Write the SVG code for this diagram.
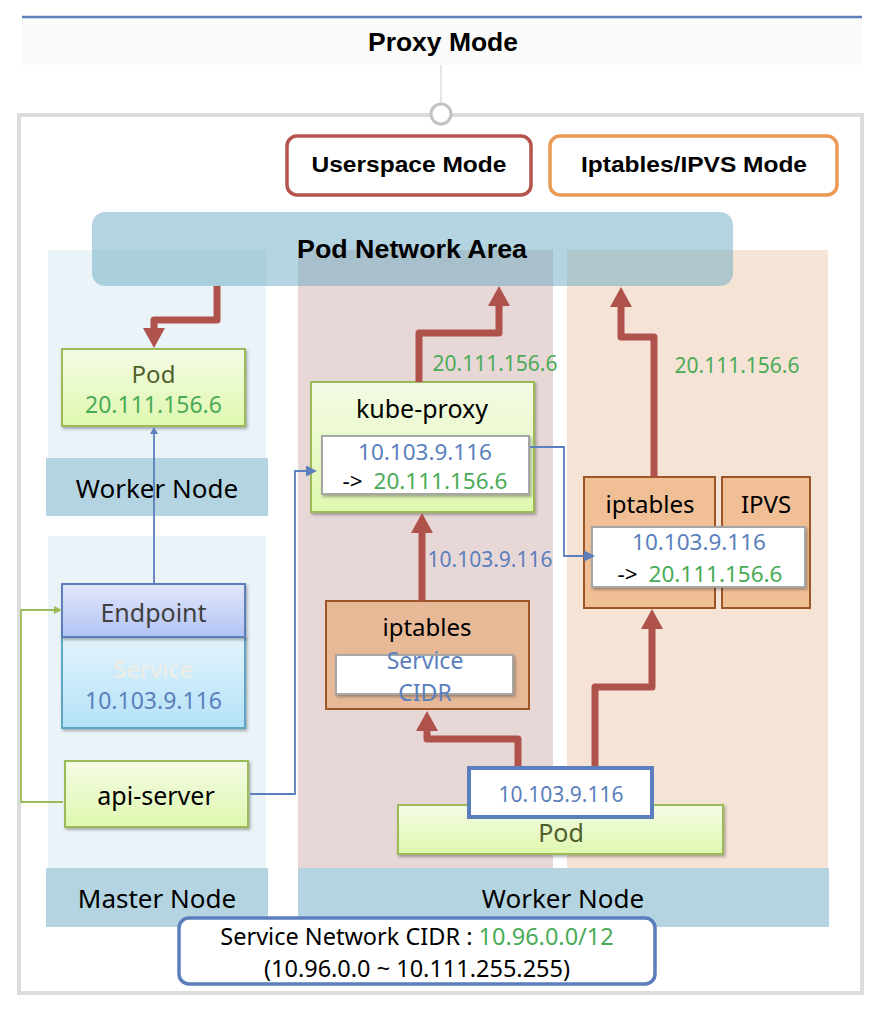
<svg xmlns="http://www.w3.org/2000/svg" width="878" height="1010" viewBox="0 0 878 1010">
<defs>
<style>
.t{font-family:"Noto Sans","Open Sans","DejaVu Sans",sans-serif;text-anchor:middle}
.b{font-family:"Liberation Sans",Arial,sans-serif;font-weight:bold;text-anchor:middle;fill:#000}
.blue{fill:#5b7fbc}
.green{fill:#4aab57}
.red{fill:none;stroke:#b0524c;stroke-width:7;stroke-linejoin:round}
.bl{fill:none;stroke:#5b7fbc;stroke-width:1.8}
.gl{fill:none;stroke:#9bbb59;stroke-width:1.8}
.gbox{fill:url(#gGreen);stroke:#9bbb59;stroke-width:2}
.wbox{fill:#fff;stroke:#a6a6a6;stroke-width:2}
.obox{stroke:#9c5526;stroke-width:2}
.bar{fill:#b3d4e0}
</style>
<linearGradient id="gGreen" x1="0" y1="0" x2="0" y2="1"><stop offset="0" stop-color="#f4fbe6"/><stop offset="1" stop-color="#dff8ae"/></linearGradient>
<linearGradient id="gEnd" x1="0" y1="0" x2="0" y2="1"><stop offset="0" stop-color="#e3e8fb"/><stop offset="1" stop-color="#b1c2f4"/></linearGradient>
<linearGradient id="gSvc" x1="0" y1="0" x2="0" y2="1"><stop offset="0" stop-color="#e3f3fb"/><stop offset="1" stop-color="#b3e2f8"/></linearGradient>
<filter id="sh" x="-10%" y="-10%" width="120%" height="130%"><feDropShadow dx="1.5" dy="2" stdDeviation="1.5" flood-color="#000" flood-opacity="0.3"/></filter>
<marker id="ar" markerUnits="userSpaceOnUse" markerWidth="20" markerHeight="22" viewBox="0 0 20 22" refX="0" refY="11" orient="auto"><path d="M0,0 L20,11 L0,22 z" fill="#b0524c"/></marker>
<marker id="ab" markerUnits="userSpaceOnUse" markerWidth="11" markerHeight="11" viewBox="0 0 11 11" refX="0" refY="5.5" orient="auto"><path d="M0,0 L11,5.5 L0,11 z" fill="#5b7fbc"/></marker>
<marker id="abs" markerUnits="userSpaceOnUse" markerWidth="7" markerHeight="8" viewBox="0 0 7 8" refX="0" refY="4" orient="auto"><path d="M0,0 L7,4 L0,8 z" fill="#5b7fbc"/></marker>
<marker id="ag" markerUnits="userSpaceOnUse" markerWidth="8" markerHeight="8" viewBox="0 0 8 8" refX="0" refY="4" orient="auto"><path d="M0,0 L8,4 L0,8 z" fill="#9bbb59"/></marker>
</defs>
<rect width="878" height="1010" fill="#fff"/>

<g id="header">
<rect x="22" y="18" width="840" height="47" fill="#fafaf8"/>
<line x1="22" y1="17" x2="862" y2="17" stroke="#5b80bb" stroke-width="2.5"/>
<text class="b" x="443" y="51" font-size="25" textLength="150" lengthAdjust="spacingAndGlyphs">Proxy Mode</text>
<line x1="441" y1="65" x2="441" y2="104" stroke="#cccccc" stroke-width="1"/>
</g>

<g id="frame">
<rect x="19" y="115" width="843" height="878" fill="none" stroke="#dcdcdc" stroke-width="4"/>
<circle cx="441" cy="114" r="10" fill="#fff" stroke="#c3c3c3" stroke-width="3"/>
</g>

<g id="columns">
<rect x="48" y="250" width="218" height="208" fill="#eaf3f7"/>
<rect x="48" y="536" width="218" height="332" fill="#eaf3f7"/>
<rect x="298" y="250" width="255" height="618" fill="#e8d7d7"/>
<rect x="567" y="250" width="261" height="618" fill="#f5e3d6"/>
</g>

<g id="worker-node-left-label"><rect class="bar" x="46" y="458" width="222" height="58"/><text class="t" x="157" y="498" font-size="26">Worker Node</text></g>
<g id="master-node-label"><rect class="bar" x="46" y="868" width="222" height="59"/><text class="t" x="157" y="908" font-size="26">Master Node</text></g>
<g id="worker-node-right-label"><rect class="bar" x="298" y="868" width="531" height="59"/><text class="t" x="563" y="908" font-size="26">Worker Node</text></g>

<g id="pod-network-area">
<rect x="92" y="212" width="641" height="74" rx="13" fill="#67a9c1" fill-opacity="0.5"/>
<text class="b" x="412" y="258" font-size="25" textLength="230" lengthAdjust="spacingAndGlyphs">Pod Network Area</text>
</g>

<g id="userspace-mode"><rect x="287" y="136" width="244" height="59" rx="10" fill="#fff" stroke="#b5534f" stroke-width="3.5"/><text class="b" x="409" y="172" font-size="22" textLength="195" lengthAdjust="spacingAndGlyphs">Userspace Mode</text></g>
<g id="iptables-ipvs-mode"><rect x="550" y="136" width="287" height="59" rx="10" fill="#fff" stroke="#ea9a54" stroke-width="3.5"/><text class="b" x="694" y="172" font-size="22" textLength="226" lengthAdjust="spacingAndGlyphs">Iptables/IPVS Mode</text></g>

<g id="pod-left">
<rect class="gbox" x="62" y="349" width="183" height="77" filter="url(#sh)"/>
<text class="t" x="153.5" y="383" font-size="24" fill="#4f5f2b">Pod</text>
<text class="t green" x="153.5" y="413" font-size="23">20.111.156.6</text>
</g>

<g id="endpoint-service">
<rect x="62" y="637" width="183" height="91" fill="url(#gSvc)" stroke="#5fa6c5" stroke-width="2" filter="url(#sh)"/>
<rect x="62" y="584" width="183" height="53" fill="url(#gEnd)" stroke="#5b7fbc" stroke-width="2" filter="url(#sh)"/>
<text class="t" x="153.5" y="622" font-size="25" fill="#404040">Endpoint</text>
<text class="t" x="153.5" y="678" font-size="24" fill="#f0ede6">Service</text>
<text class="t blue" x="153.5" y="709" font-size="23">10.103.9.116</text>
</g>

<g id="api-server">
<rect class="gbox" x="65" y="761" width="183" height="66" filter="url(#sh)"/>
<text class="t" x="156" y="805" font-size="25" fill="#000">api-server</text>
</g>

<g id="kube-proxy">
<rect class="gbox" x="311" y="382" width="223" height="130" filter="url(#sh)"/>
<text class="t" x="422" y="418" font-size="25" fill="#000">kube-proxy</text>
<rect class="wbox" x="322" y="436" width="207" height="58" filter="url(#sh)"/>
<text class="t blue" x="425" y="460" font-size="22.5">10.103.9.116</text>
<text class="t" x="425" y="489" font-size="22.5"><tspan fill="#000">-&gt; </tspan><tspan class="green" dx="5">20.111.156.6</tspan></text>
</g>

<g id="iptables-userspace">
<rect class="obox" x="326" y="601" width="203" height="108" fill="#e7b997"/>
<text class="t" x="427" y="636" font-size="24" fill="#000">iptables</text>
<rect class="wbox" x="336" y="655" width="177" height="39" filter="url(#sh)"/>
<text class="t blue" x="425" y="669" font-size="23">Service</text>
<text class="t blue" x="425" y="701" font-size="23">CIDR</text>
</g>

<g id="iptables-right">
<rect class="obox" x="584" y="477" width="131" height="131" fill="#f0bf96"/>
<text class="t" x="650" y="513" font-size="24" fill="#000">iptables</text>
</g>
<g id="ipvs">
<rect class="obox" x="722" y="477" width="88" height="131" fill="#f0bf96"/>
<text class="t" x="766" y="513" font-size="24" fill="#000">IPVS</text>
</g>
<g id="rule-right">
<rect class="wbox" x="592" y="527" width="213" height="60" filter="url(#sh)"/>
<text class="t blue" x="699" y="550" font-size="22.5">10.103.9.116</text>
<text class="t" x="700" y="582" font-size="22.5"><tspan fill="#000">-&gt; </tspan><tspan class="green" dx="5">20.111.156.6</tspan></text>
</g>

<g id="pod-bottom">
<rect class="gbox" x="398" y="805" width="325" height="49" filter="url(#sh)"/>
<text class="t" x="561" y="842" font-size="25" fill="#4f5f2b">Pod</text>
</g>

<g id="connectors">
<path class="red" d="M217,286 V320 H154 V328" marker-end="url(#ar)"/>
<path class="red" d="M419,382 V333 H499 V306" marker-end="url(#ar)"/>
<path class="red" d="M422,601 V533" marker-end="url(#ar)"/>
<path class="red" d="M654,477 V337 H621 V307" marker-end="url(#ar)"/>
<path class="red" d="M518,767 V739 H427 V731" marker-end="url(#ar)"/>
<path class="red" d="M595,767 V687 H652 V629" marker-end="url(#ar)"/>
<path class="bl" d="M154,584 V434" marker-end="url(#abs)"/>
<path class="bl" d="M250,794 H295 V471 H306" marker-end="url(#ab)"/>
<path class="bl" d="M530,447 H564 V556 H584" marker-end="url(#ab)"/>
<path class="gl" d="M63,802 H21 V610 H54" marker-end="url(#ag)"/>
</g>

<g id="pod-ip">
<rect x="469" y="768" width="183" height="49" fill="#fff" stroke="#5b7fbc" stroke-width="4"/>
<text class="t blue" x="561" y="802" font-size="21">10.103.9.116</text>
</g>

<g id="labels">
<text class="t green" x="495" y="371" font-size="21">20.111.156.6</text>
<text class="t blue" x="490" y="567" font-size="21">10.103.9.116</text>
<text class="t green" x="737" y="373" font-size="21">20.111.156.6</text>
</g>

<g id="service-cidr">
<rect x="179" y="918" width="476" height="66" rx="10" fill="#fff" stroke="#5b7fbc" stroke-width="3.5"/>
<text class="t" x="417" y="945" font-size="23.5" fill="#000">Service Network CIDR : <tspan class="green">10.96.0.0/12</tspan></text>
<text class="t" x="417" y="977" font-size="23.5" fill="#000">(10.96.0.0 ~ 10.111.255.255)</text>
</g>
</svg>
